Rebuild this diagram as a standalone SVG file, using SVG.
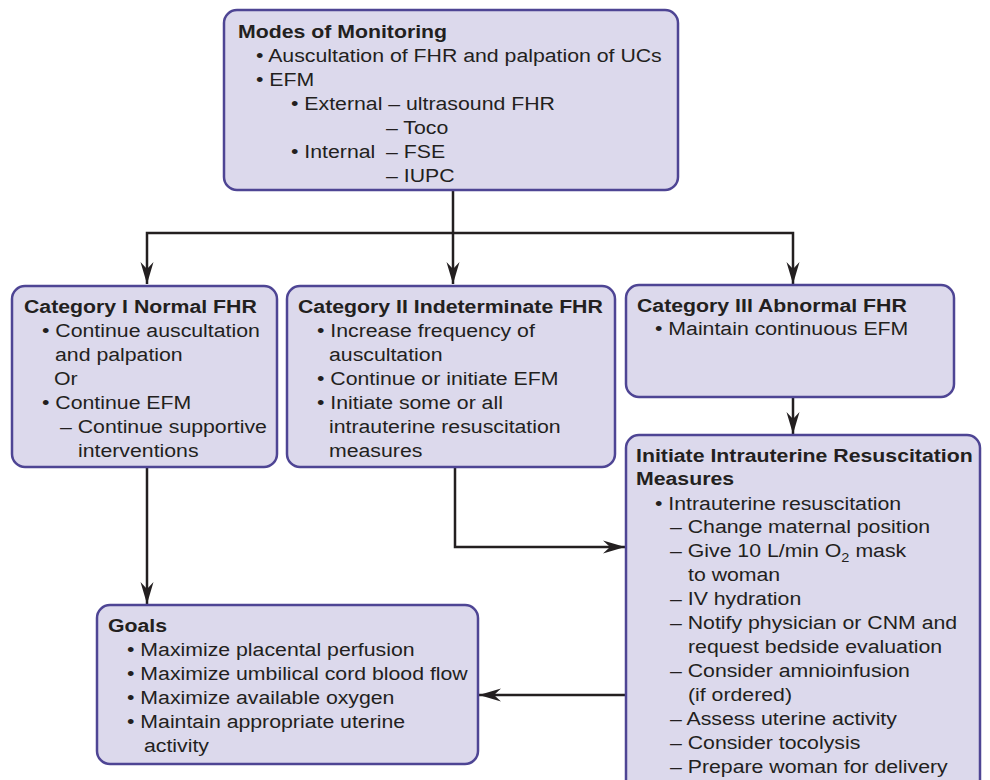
<svg xmlns="http://www.w3.org/2000/svg" width="990" height="780" viewBox="0 0 990 780">
<style>
.box{fill:#dcd9ec;stroke:#4e4594;stroke-width:2.5}
.t{font-family:"Liberation Sans",Arial,Helvetica,sans-serif;font-size:19px;fill:#231f20}
.b{font-weight:bold}
.c{fill:none;stroke:#231f20;stroke-width:2.5}
</style>
<defs>
<marker id="arr" markerUnits="userSpaceOnUse" markerWidth="24" markerHeight="14" refX="22" refY="7" orient="auto">
<path d="M0,0.5 L22,7 L0,13.5 L7,7 Z" fill="#231f20"/>
</marker>
</defs>
<rect width="990" height="780" fill="#ffffff"/>

<g id="connectors">
<path class="c" d="M453,190 V284" marker-end="url(#arr)"/>
<path class="c" d="M453,233 H147 V284" marker-end="url(#arr)"/>
<path class="c" d="M453,233 H793 V284" marker-end="url(#arr)"/>
<path class="c" d="M793,397 V434" marker-end="url(#arr)"/>
<path class="c" d="M147,467 V604" marker-end="url(#arr)"/>
<path class="c" d="M455,467 V547 H625" marker-end="url(#arr)"/>
<path class="c" d="M626,695 H479" marker-end="url(#arr)"/>
</g>

<g id="n-modes">
<rect class="box" x="224" y="10" width="454" height="180" rx="13"/>
<text class="t b" transform="translate(238 38) scale(1.12 1)">Modes of Monitoring</text>
<text class="t" transform="translate(256 62) scale(1.12 1)">• Auscultation of FHR and palpation of UCs</text>
<text class="t" transform="translate(256 86) scale(1.12 1)">• EFM</text>
<text class="t" transform="translate(291 110) scale(1.12 1)">• External – ultrasound FHR</text>
<text class="t" transform="translate(386 134) scale(1.12 1)">– Toco</text>
<text class="t" transform="translate(291 158) scale(1.12 1)">• Internal</text>
<text class="t" transform="translate(386 158) scale(1.12 1)">– FSE</text>
<text class="t" transform="translate(386 182) scale(1.12 1)">– IUPC</text>
</g>

<g id="n-cat1">
<rect class="box" x="12" y="286" width="265" height="181" rx="13"/>
<text class="t b" transform="translate(24 313) scale(1.12 1)">Category I Normal FHR</text>
<text class="t" transform="translate(42 337) scale(1.12 1)">• Continue auscultation</text>
<text class="t" transform="translate(55 361) scale(1.12 1)">and palpation</text>
<text class="t" transform="translate(54 385) scale(1.12 1)">Or</text>
<text class="t" transform="translate(42 409) scale(1.12 1)">• Continue EFM</text>
<text class="t" transform="translate(60 433) scale(1.12 1)">– Continue supportive</text>
<text class="t" transform="translate(78 457) scale(1.12 1)">interventions</text>
</g>

<g id="n-cat2">
<rect class="box" x="287" y="286" width="328" height="181" rx="13"/>
<text class="t b" transform="translate(298 313) scale(1.12 1)">Category II Indeterminate FHR</text>
<text class="t" transform="translate(317 337) scale(1.12 1)">• Increase frequency of</text>
<text class="t" transform="translate(329 361) scale(1.12 1)">auscultation</text>
<text class="t" transform="translate(317 385) scale(1.12 1)">• Continue or initiate EFM</text>
<text class="t" transform="translate(317 409) scale(1.12 1)">• Initiate some or all</text>
<text class="t" transform="translate(329 433) scale(1.12 1)">intrauterine resuscitation</text>
<text class="t" transform="translate(329 457) scale(1.12 1)">measures</text>
</g>

<g id="n-cat3">
<rect class="box" x="626" y="285" width="328" height="112" rx="13"/>
<text class="t b" transform="translate(637 312) scale(1.12 1)">Category III Abnormal FHR</text>
<text class="t" transform="translate(655 335) scale(1.12 1)">• Maintain continuous EFM</text>
</g>

<g id="n-initiate">
<rect class="box" x="626" y="435" width="354" height="360" rx="13"/>
<text class="t b" transform="translate(636 462) scale(1.12 1)">Initiate Intrauterine Resuscitation</text>
<text class="t b" transform="translate(636 485) scale(1.12 1)">Measures</text>
<text class="t" transform="translate(655 510) scale(1.12 1)">• Intrauterine resuscitation</text>
<text class="t" transform="translate(670 533) scale(1.12 1)">– Change maternal position</text>
<text class="t" transform="translate(670 557) scale(1.12 1)">– Give 10 L/min O<tspan font-size="13" dy="5">2</tspan><tspan dy="-5"> mask</tspan></text>
<text class="t" transform="translate(688 581) scale(1.12 1)">to woman</text>
<text class="t" transform="translate(670 605) scale(1.12 1)">– IV hydration</text>
<text class="t" transform="translate(670 629) scale(1.12 1)">– Notify physician or CNM and</text>
<text class="t" transform="translate(688 653) scale(1.12 1)">request bedside evaluation</text>
<text class="t" transform="translate(670 677) scale(1.12 1)">– Consider amnioinfusion</text>
<text class="t" transform="translate(688 701) scale(1.12 1)">(if ordered)</text>
<text class="t" transform="translate(670 725) scale(1.12 1)">– Assess uterine activity</text>
<text class="t" transform="translate(670 749) scale(1.12 1)">– Consider tocolysis</text>
<text class="t" transform="translate(670 773) scale(1.12 1)">– Prepare woman for delivery</text>
</g>

<g id="n-goals">
<rect class="box" x="97" y="605" width="381" height="159" rx="13"/>
<text class="t b" transform="translate(108 632) scale(1.12 1)">Goals</text>
<text class="t" transform="translate(127 656) scale(1.12 1)">• Maximize placental perfusion</text>
<text class="t" transform="translate(127 680) scale(1.12 1)">• Maximize umbilical cord blood flow</text>
<text class="t" transform="translate(127 704) scale(1.12 1)">• Maximize available oxygen</text>
<text class="t" transform="translate(127 728) scale(1.12 1)">• Maintain appropriate uterine</text>
<text class="t" transform="translate(144 752) scale(1.12 1)">activity</text>
</g>
</svg>
